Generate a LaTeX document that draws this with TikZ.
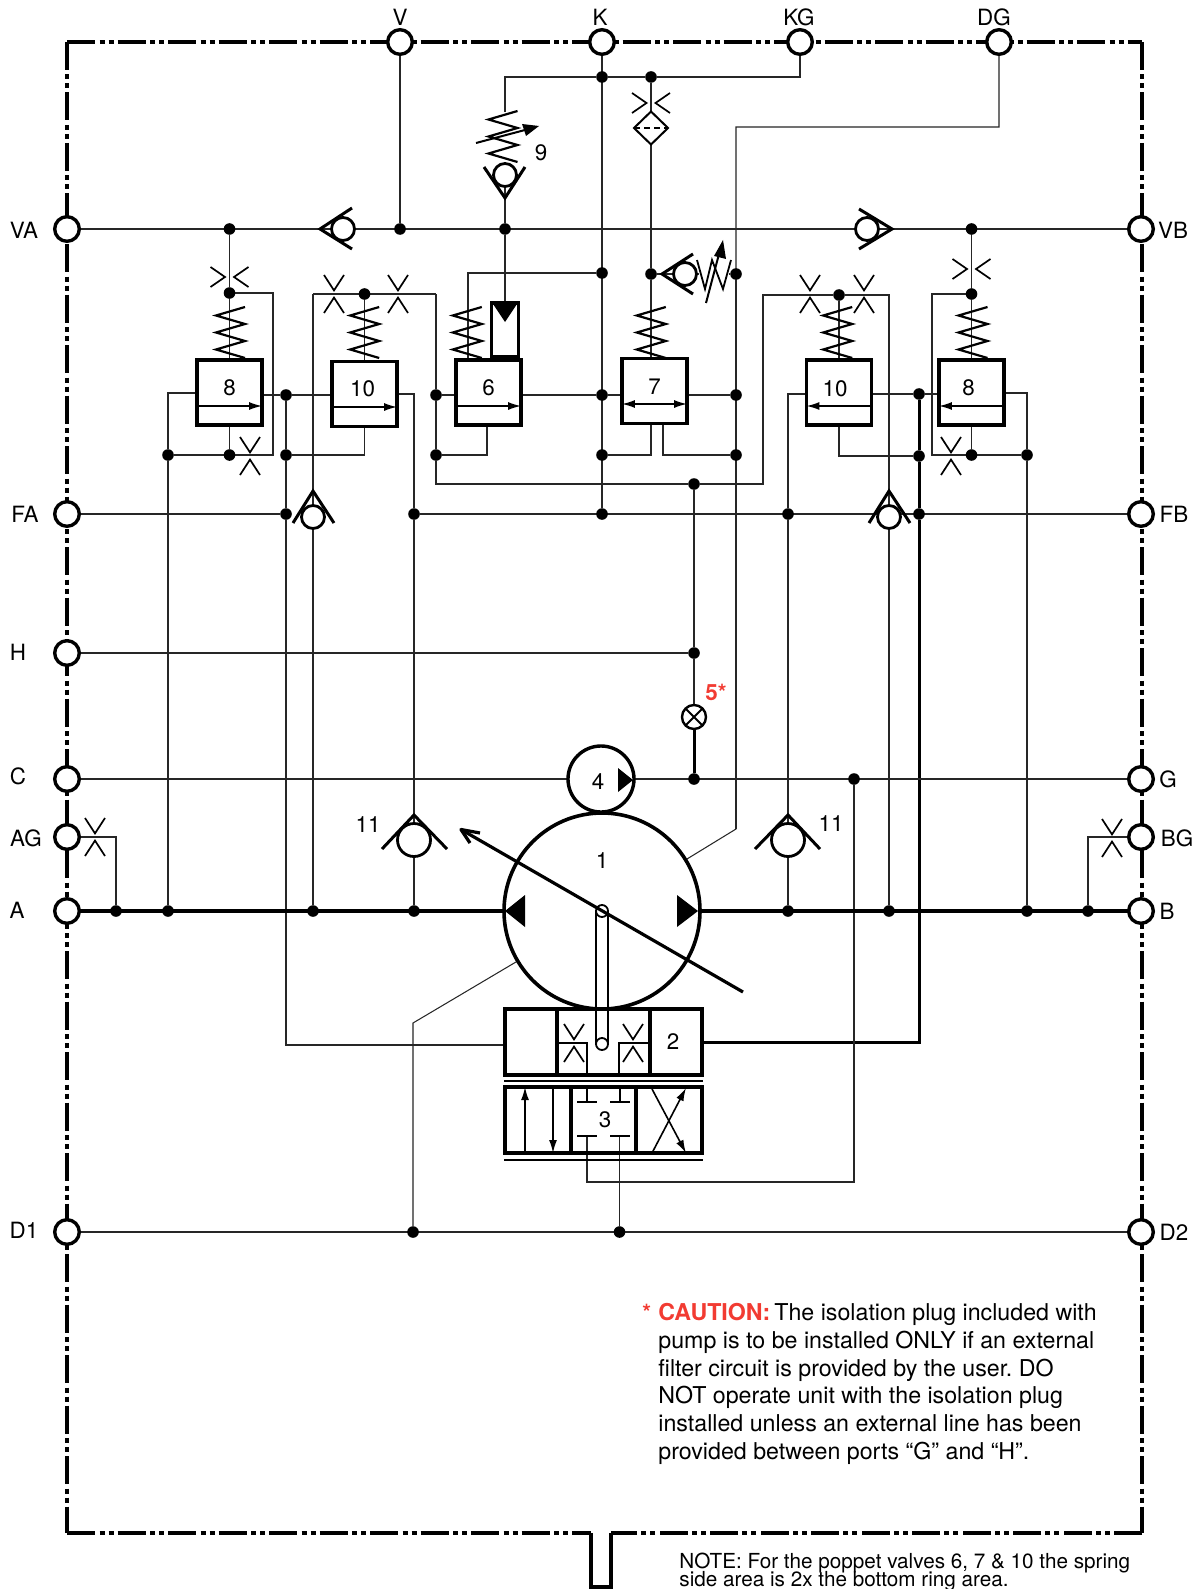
\documentclass[tikz,border=0pt]{standalone}
\usepackage{fontspec}
\setmainfont{TeX Gyre Heros}
\usetikzlibrary{shapes.geometric,arrows.meta,backgrounds}
\definecolor{cautionred}{HTML}{F23B32}
\newcommand{\sprV}[2]{\draw[sym] ({#1+14.5},#2) -- ({#1-14.5},{#2+8.5}) -- ({#1+14.5},{#2+17}) -- ({#1-14.5},{#2+25.5}) -- ({#1+14.5},{#2+34}) -- ({#1-14.5},{#2+42.5}) -- ({#1+14.5},{#2+51});}
\newcommand{\orifV}[2]{\draw[chev] ({#1-10},{#2-19}) -- ({#1},{#2-3.6}) -- ({#1+10},{#2-19}); \draw[chev] ({#1-10},{#2+19}) -- ({#1},{#2+3.6}) -- ({#1+10},{#2+19});}
\newcommand{\orifH}[2]{\draw[chev] ({#1-19},{#2-10}) -- ({#1-4.5},{#2}) -- ({#1-19},{#2+10}); \draw[chev] ({#1+19},{#2-10}) -- ({#1+4.5},{#2}) -- ({#1+19},{#2+10});}
\tikzset{
  wire/.style={draw=black!85,line width=.52pt},
  bus/.style={draw=black,line width=2.1pt},
  boldwire/.style={draw=black,line width=1.5pt},
  frameline/.style={draw=black,line width=1.75pt,dash pattern=on 14pt off 2.25pt on 2.5pt off 2pt on 2.5pt off 2pt},
  port/.style={circle,draw=black,fill=white,line width=1.7pt,minimum size=12.3pt,inner sep=0pt,outer sep=0pt},
  jn/.style={circle,fill=black,minimum size=5.8pt,inner sep=0pt,outer sep=0pt},
  ball/.style={circle,draw=black,fill=white,line width=1.4pt,minimum size=11.5pt,inner sep=0pt,outer sep=0pt},
  bigball/.style={ball,minimum size=16.5pt},
  valvebox/.style={rectangle,draw=black,line width=1.75pt,minimum width=32.6pt,minimum height=32.4pt,inner sep=0pt,outer sep=0pt,font=\lblfont},
  sym/.style={draw=black,line width=1.1pt},
  chev/.style={draw=black,line width=.85pt},
  wing/.style={draw=black,line width=1.5pt},
  thick box/.style={rectangle,draw=black,line width=1.8pt,inner sep=0pt,outer sep=0pt},
  lbl/.style={inner sep=0pt,font=\lblfont},
  plbl/.style={lbl,yshift=-0.25pt},
  tipline/.style={draw=black,line width=.8pt,-{Latex[length=6.5pt,width=4pt]}},
}
\newcommand{\lblfont}{\fontsize{11.2}{13}\selectfont}
\begin{document}
\frenchspacing
\setlength{\lineskiplimit}{-6pt}
\begin{tikzpicture}[x=0.5pt,y=-0.5pt]
\path[use as bounding box] (0,0) rectangle (1199,1589);
% ports
\node[port] (V)  at (400,42) {};
\node[port] (K)  at (602,42) {};
\node[port] (KG) at (800,42) {};
\node[port] (DG) at (999,42) {};
\node[port] (VA) at (67,229) {};
\node[port] (FA) at (67,514) {};
\node[port] (H)  at (67,653) {};
\node[port] (C)  at (67,779) {};
\node[port] (AG) at (67,837) {};
\node[port] (A)  at (67,911) {};
\node[port] (D1) at (67,1232) {};
\node[port] (VB) at (1141,229) {};
\node[port] (FB) at (1141,514) {};
\node[port] (G)  at (1141,779) {};
\node[port] (BG) at (1141,837) {};
\node[port] (B)  at (1141,911) {};
\node[port] (D2) at (1141,1232) {};
% port labels
\node[plbl] (lV)  at (400,17) {V};
\node[plbl] (lK)  at (600,17) {K};
\node[plbl] (lKG) at (799,17) {KG};
\node[plbl] (lDG) at (994,17) {DG};
\node[plbl] (lVA) at (24,230) {VA};
\node[plbl] (lFA) at (25,514) {FA};
\node[plbl] (lH)  at (18,652) {H};
\node[plbl] (lC)  at (18,776) {C};
\node[plbl] (lAG) at (26,838) {AG};
\node[plbl] (lA)  at (17,910) {A};
\node[plbl] (lD1) at (24,1230) {D1};
\node[plbl] (lVB) at (1173,230) {VB};
\node[plbl] (lFB) at (1174,514) {FB};
\node[plbl] (lG)  at (1168,779) {G};
\node[plbl] (lBG) at (1177,838) {BG};
\node[plbl] (lB)  at (1167,911) {B};
\node[plbl] (lD2) at (1174,1232) {D2};
% valve bodies
\node[valvebox] (b8)  at (229.5,392.5) {\raisebox{4.6pt}{8}};
\node[valvebox] (b10) at (364.5,394) {\raisebox{5.2pt}{\hspace*{-2pt}10}};
\node[valvebox] (b6)  at (488.5,392.5) {\raisebox{4.6pt}{6}};
\node[valvebox] (b7)  at (654.5,391) {\raisebox{3.8pt}{7}};
\node[valvebox] (b10R) at (839,392.5) {\raisebox{4pt}{\hspace*{-4pt}10}};
\node[valvebox] (b8R) at (971.5,392.5) {\raisebox{4.6pt}{\hspace*{-3pt}8}};
\node[thick box,minimum width=13.5pt,minimum height=27pt] (sol6) at (505,330) {};
\node[thick box,minimum width=98.5pt,minimum height=33pt] (b2) at (603.5,1042) {};
\node[thick box,minimum width=98.5pt,minimum height=33pt,font=\lblfont] (b3) at (603.5,1120) {\hspace*{1.5pt}3};
\node[circle,draw=black,line width=1.8pt,minimum size=98pt,inner sep=0pt,outer sep=0pt] (P1) at (602,911) {};
\node[circle,draw=black,line width=1.7pt,minimum size=33pt,inner sep=0pt,outer sep=0pt] (P4) at (601,779) {};
\node[diamond,draw=black,line width=1pt,fill=white,minimum width=17pt,minimum height=16.5pt,inner sep=0pt,outer sep=0pt] (filt) at (651,128) {};
\node[circle,draw=black,fill=white,line width=1.2pt,minimum size=12pt,inner sep=0pt,outer sep=0pt] (iso5) at (694,717) {};
\node[lbl] (l1) at (602,861) {1};
\node[lbl] (l2) at (673,1042) {2};
\node[lbl] (l4) at (598,782) {4};
\node[lbl] (l9) at (541,153) {9};
\node[lbl] (l11a) at (368,825) {11};
\node[lbl] (l11b) at (831,824) {11};
\node[lbl,text=cautionred,font=\lblfont\bfseries] (l5) at (716,692) {5*};
% balls of check valves
\node[ball] (cvL) at (343,229) {};
\node[ball] (cvR) at (867,229) {};
\node[ball] (cv9) at (505,175) {};
\node[ball] (cv7) at (685,274) {};
\node[ball] (cvFA) at (313,517) {};
\node[ball] (cvFB) at (889,517) {};
\node[bigball] (cv11a) at (414,840) {};
\node[bigball] (cv11b) at (788,840) {};
% junctions
\foreach \n/\px/\py in {dV/400/229,dVA/229.5/229,d9/505/229,dVB/971.5/229,dK1/602/77,dF1/651/77,
 d8t/229.5/293,d8b/229.5/455,d8l/168/455,d10j/286/395,d10b/286/455,dFA/286/514,d10t/364.5/294,
 d6l/436/395,d6b/436/455,dK2/602/273,dK3/602/395,dK4/602/455,dK5/602/514,d7l/651/274,
 dD1/736/274,dD2/736/395,dD3/736/455,dI/694/484,dH/694/653,dC/694/779,dR/839/295,
 dFB1/414/514,dFB2/788/514,dFB3/919/514,d10R/919/456,d8Rj/919/394,d8Rt/971.5/294,d8Rb/971.5/455,d8Rr/1027/455,
 dG/854/779,dA1/116/911,dA2/168/911,dA3/313/911,dA4/414/911,dB1/788/911,dB2/889/911,dB3/1027/911,dB4/1088/911,
 dD11/413/1232,dD12/619.5/1232}
 {\node[jn] (\n) at (\px,\py) {};}
% bend points
\foreach \n/\px/\py in {s9t/505/112,c6s/468/359,cD1/736/127,cD2/736/829,cD3/413/1023,c8a/273/455,c8c/273/293,c8l/168/393,
 c2l/286/1045,cFAt/313/294,c6t/436/294,c6r/436/484,c7t/763/484,c7u/763/295,cRt/889/295,c6b/487/426,c7a/651/423,c7b/663/423,
 c7z/729/274,c7y/699/274,c10r/414/394,c10l/788/394,c2r/919/1042,c8Rl/932/294,c8Rb/932/455,c8Rr/1027/393,cAG/116/837,cBG/1088/837,
 c3m/587/1182,cT1/587/1136,cT2/619.5/1136}
 {\coordinate (\n) at (\px,\py);}
% symbols on the main layer
\foreach \a/\b in {230.5/307,364.7/307,467.3/307,651.3/307,837.7/307,973/307,503/111} {\sprV{\a}{\b}}
\orifH{229.5}{277}\orifV{250}{456}\orifV{334}{294}\orifV{398}{294}
\orifV{810}{294}\orifV{864}{294}\orifH{971.5}{269}\orifV{951}{456}
\orifH{651}{103}\orifV{95}{837}\orifV{1112}{838}
\draw[wing] (352,208) -- (320,229) -- (352,249);
\draw[wing] (859,209) -- (892,229) -- (859,249);
\draw[wing] (484,167) -- (505,198) -- (525,167);
\draw[wing] (693,254) -- (662,274) -- (693,294);
\draw[wing] (293,523) -- (313,491) -- (334,523);
\draw[wing] (869,523) -- (889,491) -- (910,523);
\draw[wing] (382,849) -- (414,815) -- (447,849);
\draw[wing] (755,849) -- (788,815) -- (820,849);
\draw[sym,line width=1pt] (476,143) -- (525,130);
\fill (539,126) -- (522,124) -- (526,136) -- cycle;
\draw[sym,line width=.9pt] (697,260) -- (705,289) -- (712,260) -- (723,289) -- (731,260);
\draw[sym,line width=1pt] (706,303) -- (719,254);
\fill (723,240) -- (714,256) -- (726,259) -- cycle;
\fill (493,304) -- (517,304) -- (505,322) -- cycle;
\draw[line width=.8pt,dash pattern=on 3pt off 2pt] (filt.west) -- (filt.east);
\draw[line width=1pt] (iso5.north west) -- (iso5.south east) (iso5.north east) -- (iso5.south west);
% poppet flow arrows
\draw[tipline] (b8.west |- 0,406) -- (b8.east |- 0,406);
\draw[tipline] (b10.west |- 0,407) -- (b10.east |- 0,407);
\draw[tipline] (b6.west |- 0,406) -- (b6.east |- 0,406);
\draw[tipline,{Latex[length=6.5pt,width=4pt]}-{Latex[length=6.5pt,width=4pt]}] (b7.west |- 0,404) -- (b7.east |- 0,404);
\draw[tipline] (b10R.east |- 0,406) -- (b10R.west |- 0,406);
\draw[tipline] (b8R.east |- 0,406) -- (b8R.west |- 0,406);
% pump triangles
\fill (505,911) -- (525,895) -- (525,927) -- cycle;
\fill (698,911) -- (677,895) -- (677,927) -- cycle;
\fill (633,780) -- (618,768) -- (618,792) -- cycle;
% box 2 interior
\draw[line width=1.8pt] (557,1009) -- (557,1077) (650,1009) -- (650,1077);
\draw[line width=.9pt] (557,1043) -- (587,1043) -- (587,1077) (650,1043) -- (619,1043) -- (619,1077);
\orifV{574}{1043}\orifV{633}{1043}
% tube and pivots
\draw[line width=.9pt,fill=white] (596,911) -- (596,1044) (608,1044) -- (608,911);
\node[circle,draw=black,fill=white,line width=.9pt,minimum size=6pt,inner sep=0pt] (piv1) at (602,911) {};
\node[circle,draw=black,fill=white,line width=.9pt,minimum size=6pt,inner sep=0pt] (piv2) at (602,1044) {};
% swash arrow
\draw[line width=1.6pt] (743,992) -- (461,829.5);
\draw[line width=1.6pt,line join=round] (480,833) -- (461,829.5) -- (470,843);
% box 3
\draw[line width=1.3pt] (504,1081) -- (703,1081) (504,1160) -- (703,1160);
\draw[line width=1.8pt] (571,1087) -- (571,1155) (636,1087) -- (636,1155);
\draw[tipline] (525,1153) -- (525,1087);
\draw[tipline] (553,1087) -- (553,1153);
\draw[tipline] (652,1153) -- (686,1088);
\draw[tipline] (652,1089) -- (686,1153);
\draw[line width=.9pt] (587,1087) -- (587,1102) (577,1102) -- (597,1102) (620,1087) -- (620,1102) (610,1102) -- (630,1102);
\draw[line width=.9pt] (577,1136) -- (597,1136) (610,1136) -- (630,1136);
% notes
\node[lbl,text=cautionred,font=\lblfont\bfseries,anchor=base west] (star) at (642,1320) {*};
\node[anchor=north west,inner sep=0pt,align=left,font=\fontsize{11.6}{13.85}\selectfont] (caution) at (658,1303)
 {\textcolor{cautionred}{\bfseries CAUTION:}\hspace{2pt}The isolation plug included with\\
  pump is to be installed ONLY if an external\\
  filter circuit is provided by the user. DO\\
  NOT operate unit with the isolation plug\\
  installed unless an external line has been\\
  provided between ports “G” and “H”.};
\node[anchor=north west,inner sep=0pt,align=left,font=\fontsize{10.35}{9.2}\selectfont] (note) at (679,1552.5)
 {NOTE: For the poppet valves 6, 7 \& 10 the spring\\ side area is 2x the bottom ring area.};
\begin{scope}[on background layer]
\fill[white] (0,0) rectangle (1199,1589);
% enclosure
\draw[frameline] (67,42) -- (1142,42);
\draw[frameline] (67,42) -- (67,1533);
\draw[frameline] (1142,42) -- (1142,1533);
\draw[frameline] (1142,1533) -- (611,1533);
\draw[frameline] (67,1533) -- (591,1533);
\draw[draw=black,line width=1.75pt] (591,1533) -- (591,1587) -- (611,1587) -- (611,1533);
% connectors
\draw[wire] (VA) -- (VB);
\draw[wire] (V) -- (dV);
\draw[wire] (K) -- (dK5);
\draw[wire] (KG) |- (dF1) -- (dK1) -| (s9t);
\draw[wire] (DG) |- (cD1) -- (cD2) -- (P1) -- (cD3) -- (dD11);
\draw[wire] (d9) -- (cv9);
\draw[wire] (d9) -- (sol6);
\draw[wire] (dK2) -| (c6s);
\draw[wire] (dF1) -- (filt) -- (d7l) -- (b7.north -| d7l);
\draw[wire] (d7l) -- (c7y);
\draw[wire] (c7z) -- (dD1);
\draw[wire] (cD2) -- (dD1);
\draw[wire] (dVA) -- (d8t) -- (b8);
\draw[wire] (b8) -- (d8b);
\draw[wire] (d8t) -- (c8c) -- (c8a) -- (d8b) -- (d8l);
\draw[wire] (b8.west |- c8l) -- (c8l) -- (d8l) -- (dA2);
\draw[wire] (b8.east |- d10j) -- (d10j) -- (b10.west |- d10j);
\draw[wire] (d10j) -- (d10b) -- (dFA) -- (c2l) -- (b2.west |- c2l);
\draw[wire] (d10b) -| (b10.south);
\draw[wire] (FA) -- (dFA);
\draw[wire] (cFAt) -- (cvFA) -- (dA3);
\draw[wire] (cFAt) -- (d10t) -- (c6t);
\draw[wire] (d10t) -- (b10);
\draw[wire] (c6t) -- (d6l) -- (d6b) -- (c6r) -- (dI) -- (c7t) -- (c7u) -- (dR) -- (cRt) -- (cvFB) -- (dB2);
\draw[wire] (b6.west |- d6l) -- (d6l);
\draw[wire] (d6b) -| (c6b);
\draw[wire] (b6.east |- dK3) -- (dK3) -- (b7.west |- dK3);
\draw[wire] (dK4) -| (c7a);
\draw[wire] (dD3) -| (c7b);
\draw[wire] (b7.east |- dD2) -- (dD2);
\draw[wire] (b10.east |- c10r) -- (c10r) -- (dFB1) -- (cv11a) -- (dA4);
\draw[wire] (dFB1) -- (FB);
\draw[wire] (b10R.west |- c10l) -- (c10l) -- (dFB2) -- (cv11b) -- (dB1);
\draw[wire] (dR) -- (b10R);
\draw[wire] (b10R.south) |- (d10R);
\draw[wire] (b10R.east |- d8Rj) -- (d8Rj) -- (b8R.west |- d8Rj);
\draw[boldwire] (d8Rj) -- (d10R) -- (dFB3) -- (c2r) -- (b2.east |- c2r);
\draw[wire] (dVB) -- (d8Rt) -- (b8R);
\draw[wire] (d8Rt) -- (c8Rl) -- (c8Rb) -- (d8Rb) -- (d8Rr);
\draw[wire] (b8R) -- (d8Rb);
\draw[wire] (b8R.east |- c8Rr) -- (c8Rr) -- (d8Rr) -- (dB3);
\draw[wire] (dI) -- (dH) -- (iso5);
\draw[boldwire] (iso5) -- (dC);
\draw[wire] (H) -- (dH);
\draw[wire] (C) -- (P4);
\draw[wire] (P4) -- (G);
\draw[wire] (dG) |- (c3m) -- (cT1);
\draw[wire] (D1) -- (D2);
\draw[wire] (cT2) -- (dD12);
\draw[wire] (AG) -- (cAG) -- (dA1);
\draw[wire] (BG) -- (cBG) -- (dB4);
\draw[bus] (A) -- (P1);
\draw[bus] (P1) -- (B);
\end{scope}
\end{tikzpicture}
\end{document}
